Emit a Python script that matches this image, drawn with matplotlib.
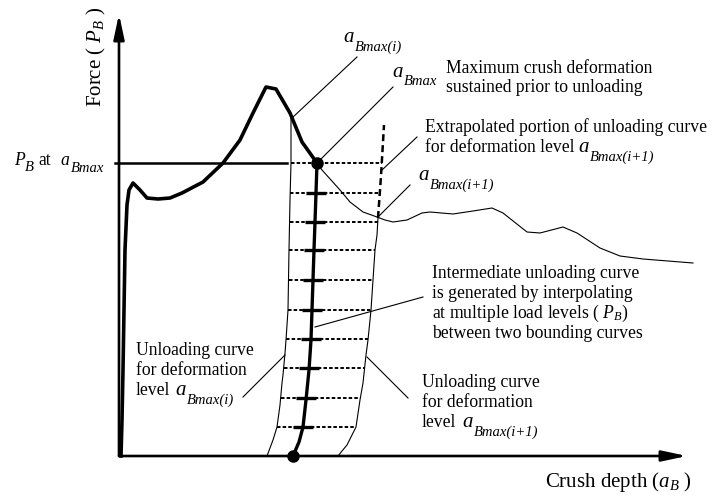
import numpy as np
import matplotlib.pyplot as plt

plt.rcParams['font.family'] = ['Liberation Serif', 'DejaVu Serif']
plt.rcParams['mathtext.fontset'] = 'custom'
plt.rcParams['mathtext.rm'] = 'Liberation Serif'
plt.rcParams['mathtext.it'] = 'Liberation Serif:italic'
plt.rcParams['mathtext.bf'] = 'Liberation Serif:bold'

# crush depth / force, schematic units
load_depth = [2, 3, 4, 5, 6, 8, 10, 14, 21, 28, 39, 51, 63, 84, 104, 121, 134, 147, 157, 171, 183, 198]
load_force = [0, 36, 86, 146, 206, 251, 266, 273, 266, 258, 257, 258, 263, 274, 293, 316, 343, 369, 367, 343, 314, 293]

# loading continued beyond a_Bmax(i) (thin line)
tail_depth = [198, 203, 212, 221, 231, 244, 258, 266, 274, 288, 303, 311, 334, 354, 373, 384,
              408, 421, 444, 458, 481, 501, 524, 574]
tail_force = [293, 286, 276, 266, 254, 244, 239, 236, 234, 236, 243, 244, 242, 245, 248, 243,
              224, 223, 229, 223, 208, 200, 197, 193]

# unloading curve for a_Bmax(i)
unl_i_depth = [172, 172, 171, 170, 169, 167, 166, 164, 163, 161, 158, 154, 151, 148]
unl_i_force = [338, 293, 256, 206, 146, 116, 103, 81, 73, 51, 29, 16, 8, 0]

# unloading curve for a_Bmax(i+1)
unl_n_depth = [259, 258, 256, 254, 252, 249, 247, 244, 241, 237, 234, 228, 223, 219]
unl_n_force = [238, 221, 206, 176, 146, 116, 101, 73, 56, 29, 23, 11, 5, 0]

# extrapolated part of the a_Bmax(i+1) curve
extra_depth = [259, 262, 265]
extra_force = [238, 280, 331]

# interpolated unloading curve for a_Bmax
mid_depth = [198, 197, 196, 195, 194, 193, 192, 190, 187, 184, 180, 174]
mid_force = [293, 263, 234, 206, 176, 146, 116, 86, 56, 29, 14, 0]

# load levels used for the interpolation
levels = [293, 263, 234, 206, 176, 146, 117, 88, 58, 29]

fig = plt.figure(figsize=(7.12, 4.98), dpi=100)
ax = fig.add_axes([0, 0, 1, 1])
ax.set_xlim(-119, 593)
ax.set_ylim(-42, 456)
ax.axis('off')

# axes with arrow heads
arrow = dict(arrowstyle='-|>,head_length=1.5,head_width=0.32', lw=1.9,
             color='black', mutation_scale=10, shrinkA=0, shrinkB=0)
ax.annotate('', xy=(0, 442), xytext=(0, 0), arrowprops=arrow)
ax.annotate('', xy=(568, 0), xytext=(0, 0), arrowprops=arrow)

# boundaries for the dotted levels
lf = np.array(unl_i_force[::-1]); ld = np.array(unl_i_depth[::-1])
right_f = np.array(unl_n_force[::-1] + extra_force[1:])
right_d = np.array(unl_n_depth[::-1] + extra_depth[1:])
mf = np.array(mid_force[::-1]); md = np.array(mid_depth[::-1])

for k, lev in enumerate(levels):
    x0 = np.interp(lev, lf, ld)
    x1 = np.interp(lev, right_f, right_d)
    ax.plot([x0, x1], [lev, lev], color='black', lw=1.4, ls=(0, (1.8, 1.1)), zorder=2)
    if k > 0:
        xm = np.interp(lev, mf, md)
        ax.plot([xm - 10, xm + 10], [lev, lev], color='black', lw=2.4,
                solid_capstyle='butt', zorder=4)

# P_B at a_Bmax reference line
ax.plot([-4, 168], [levels[0], levels[0]], color='black', lw=1.8, zorder=3)

ax.plot(load_depth, load_force, color='black', lw=2.6, solid_joinstyle='round', zorder=4)
ax.plot(tail_depth, tail_force, color='black', lw=0.8, zorder=3)
ax.plot(unl_i_depth, unl_i_force, color='black', lw=0.8, zorder=3)
ax.plot(unl_n_depth, unl_n_force, color='black', lw=0.8, zorder=3)
ax.plot(extra_depth, extra_force, color='black', lw=1.8, ls=(0, (2.8, 1.6)), zorder=3)
ax.plot(mid_depth, mid_force, color='black', lw=2.4, solid_capstyle='round', zorder=4)
ax.plot([mid_depth[0], mid_depth[-1]], [mid_force[0], mid_force[-1]], 'o',
        color='black', ms=8, zorder=5)

# leader lines
leaders = [((173, 338), (238, 399)), ((201, 296), (274, 369)), ((263, 286), (298, 319)),
           ((259, 239), (291, 271)), ((196, 129), (304, 159)), ((166, 101), (124, 59)),
           ((248, 99), (289, 58))]
for (xa, ya), (xb, yb) in leaders:
    ax.plot([xa, xb], [ya, yb], color='black', lw=0.8, zorder=3)

FS = 12.7


def sym(x, y, base, sub, size=15, subsize=10.5, dx=None, drop=6):
    ax.text(x, y, base, fontsize=size, style='italic', va='baseline', ha='left')
    if dx is None:
        dx = size * 0.55
    ax.annotate(sub, (x, y), xytext=(dx, -drop), textcoords='offset points',
                fontsize=subsize, style='italic', va='baseline', ha='left')


def block(x, y, lines, step=20):
    for i, s in enumerate(lines):
        ax.text(x, y - i * step, s, fontsize=FS, va='baseline', ha='left')


sym(224, 414, 'a', 'Bmax(i)')
sym(273, 379, 'a', 'Bmax')
block(327, 383, ['Maximum crush deformation', 'sustained prior to unloading'], step=19)

block(306, 324, ['Extrapolated portion of unloading curve', 'for deformation level'])
sym(459, 304, 'a', 'Bmax(i+1)')

sym(299, 276, 'a', 'Bmax(i+1)')

block(313, 178, ['Intermediate unloading curve', 'is generated by interpolating',
                 r'at multiple load levels ( $P_B$)', 'between two bounding curves'])

block(17, 101, ['Unloading curve', 'for deformation', 'level'])
sym(56, 61, 'a', 'Bmax(i)')

block(303, 69, ['Unloading curve', 'for deformation', 'level'])
sym(343, 29, 'a', 'Bmax(i+1)')

# P_B at a_Bmax
sym(-105, 291, 'P', 'B', size=FS, dx=7.5, drop=4)
ax.text(-81, 291, 'at', fontsize=FS, va='baseline', ha='left')
sym(-59, 291, 'a', 'Bmax', size=FS, dx=7.5, drop=5)

ax.text(573, -31, r'Crush depth ($a_B$ )', fontsize=15, va='baseline', ha='right')
ax.text(-23, 399, r'Force ( $P_B$ )', fontsize=15, rotation=90, va='center', ha='center')

fig.savefig('out.png', dpi=100)
